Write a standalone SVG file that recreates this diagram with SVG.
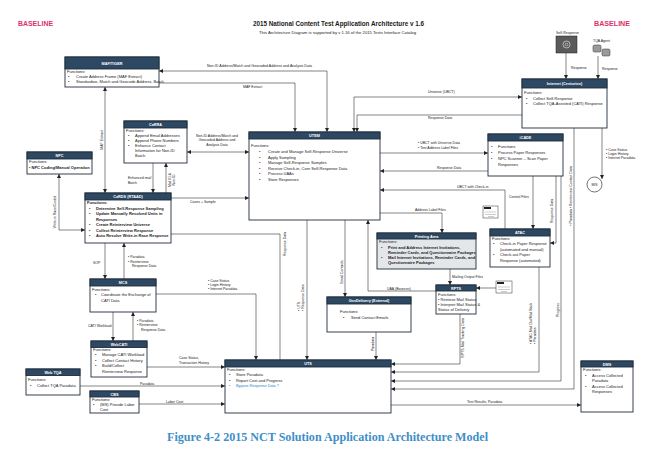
<svg xmlns="http://www.w3.org/2000/svg" width="650" height="457" viewBox="0 0 650 457">
<defs>
<marker id="ah" viewBox="0 0 10 10" refX="10" refY="5" markerWidth="4" markerHeight="4" markerUnits="userSpaceOnUse" orient="auto-start-reverse"><path d="M0,0 L10,5 L0,10 z" fill="#222"/></marker>
<style>
text{font-family:"Liberation Sans",Arial,sans-serif;fill:#1a1a1a}
.box{fill:#fff;stroke:#1f2d3a;stroke-width:0.9}
.grey{fill:#e4e7ea}
.hdr{fill:#2d4862;stroke:#1f2d3a;stroke-width:0.9}
.h{fill:#fff;font-size:3.8px;font-weight:bold;text-anchor:middle}
.t{font-size:4px}
.b{font-weight:bold}
.c{fill:none;stroke:#333;stroke-width:0.6}
.l{font-size:3.5px}
.base{fill:#e0306a;font-weight:bold;font-size:7.5px}
</style>
</defs>
<rect width="650" height="457" fill="#fff"/>

<text class="base" x="18" y="26" textLength="35" lengthAdjust="spacingAndGlyphs">BASELINE</text>
<text class="base" x="594" y="26" textLength="36" lengthAdjust="spacingAndGlyphs">BASELINE</text>
<text x="338.5" y="26" text-anchor="middle" font-weight="bold" font-size="6.5" textLength="171" lengthAdjust="spacingAndGlyphs">2015 National Content Test Application Architecture v 1.6</text>
<text x="337.5" y="34" text-anchor="middle" font-size="3.6" textLength="157" lengthAdjust="spacingAndGlyphs">This Architecture Diagram is supported by v 1.16 of the 2015 Tests Interface Catalog</text>
<text x="327.5" y="441" text-anchor="middle" font-weight="bold" font-size="12" textLength="321" lengthAdjust="spacingAndGlyphs" style="font-family:'Liberation Serif','Times New Roman',serif;fill:#3f8fc8">Figure 4-2 2015 NCT Solution Application Architecture Model</text>

<g id="connectors">
<path class="c" d="M159,71 H327 V132" marker-start="url(#ah)" marker-end="url(#ah)"/>
<text class="l" x="207" y="67" textLength="105" lengthAdjust="spacingAndGlyphs">Non-ID Address/Match and Geocoded Address and Analysis Data</text>
<path class="c" d="M159,83 H295 V132" marker-end="url(#ah)"/>
<text class="l" x="243" y="87.5">MAF Extract</text>
<path class="c" d="M105,87 V193" marker-start="url(#ah)" marker-end="url(#ah)"/>
<text class="l" text-anchor="middle" transform="translate(102.5,140) rotate(-90)">MAF Extract</text>
<path class="c" d="M187,152 H249" marker-start="url(#ah)" marker-end="url(#ah)"/>
<text class="l" text-anchor="middle" x="217" y="136.5">Non-ID Address/Match and</text>
<text class="l" text-anchor="middle" x="217" y="141">Geocoded Address and</text>
<text class="l" text-anchor="middle" x="217" y="145.5">Analysis Data</text>
<path class="c" d="M153,163 V193" marker-end="url(#ah)"/>
<text class="l" x="128" y="179">Enhanced mail</text>
<text class="l" x="128" y="184">Batch</text>
<path class="c" d="M166,193 V163" marker-end="url(#ah)"/>
<text class="l" text-anchor="middle" transform="translate(171,180) rotate(-90)">Mail ID &amp;</text>
<text class="l" text-anchor="middle" transform="translate(175,180) rotate(-90)">Non-ID</text>
<path class="c" d="M171,198 H249" marker-end="url(#ah)"/>
<text class="l" x="190" y="203">Cases + Sample</text>
<path class="c" d="M59,174 V230 H85" marker-start="url(#ah)" marker-end="url(#ah)"/>
<text class="l" text-anchor="middle" transform="translate(56,212) rotate(-90)">Write-in Race/Coded</text>
<path class="c" d="M105,243 V279" marker-end="url(#ah)"/>
<text class="l" x="93" y="264">SOP</text>
<path class="c" d="M124,279 V243" marker-end="url(#ah)"/>
<text class="l" x="128" y="258">•  Paradata</text>
<text class="l" x="128" y="262.5">•  Reinterview</text>
<text class="l" x="132" y="267">Response Data</text>
<path class="c" d="M113,312 V341" marker-end="url(#ah)"/>
<text class="l" x="88" y="327">CATI Workload</text>
<path class="c" d="M133,341 V312" marker-end="url(#ah)"/>
<text class="l" x="137" y="321.5">•  Paradata</text>
<text class="l" x="137" y="326">•  Reinterview</text>
<text class="l" x="141" y="330.5">Response Data</text>
<path class="c" d="M156,294 H256 V360" marker-end="url(#ah)"/>
<text class="l" x="208" y="282">•  Case Status</text>
<text class="l" x="208" y="286">•  Login History</text>
<text class="l" x="208" y="290">•  Internet Paradata</text>
<path class="c" d="M171,234 H280 V360"/>
<text class="l" text-anchor="middle" transform="translate(286,244) rotate(-90)">Response Data</text>
<path class="c" d="M307,220 V360" marker-end="url(#ah)"/>
<text class="l" transform="translate(300,311) rotate(-90)">•  UTS</text>
<text class="l" transform="translate(304,311) rotate(-90)">•  Response Data</text>
<path class="c" d="M345,220 V297" marker-end="url(#ah)"/>
<text class="l" text-anchor="middle" transform="translate(343,272) rotate(-90)">Email Contacts</text>
<path class="c" d="M436,291 H368 V220" marker-end="url(#ah)"/>
<text class="l" x="387" y="289.5">UAA (Bounces)</text>
<path class="c" d="M376,332 V360" marker-end="url(#ah)"/>
<text class="l" text-anchor="middle" transform="translate(374,344) rotate(-90)">Paradata</text>
<path class="c" d="M380,213 H442 V233" marker-end="url(#ah)"/>
<text class="l" x="415" y="211">Address Label Files</text>
<path class="c" d="M450,269 V285" marker-end="url(#ah)"/>
<text class="l" x="452" y="278">Mailing Output Files</text>
<path class="c" d="M496,288 H476" marker-end="url(#ah)"/>
<path class="c" d="M460,314 V364 H391" marker-end="url(#ah)"/>
<text class="l" text-anchor="middle" transform="translate(464,338) rotate(-90)">RPTS Mail Tracking Data</text>
<path class="c" d="M539,267 V372 H391" marker-end="url(#ah)"/>
<text class="l" transform="translate(532,344) rotate(-90)">•  ATAC Mail Out/Mail Back</text>
<text class="l" transform="translate(536,344) rotate(-90)">•  Paradata</text>
<path class="c" d="M561,176 V381 H391" marker-end="url(#ah)"/>
<text class="l" text-anchor="middle" transform="translate(559,310) rotate(-90)">Progress</text>
<path class="c" d="M574,128 V389 H391" marker-end="url(#ah)"/>
<text class="l" text-anchor="middle" transform="translate(572,196) rotate(-90)">•  Paradata   •  Reinterview Contact Data</text>
<path class="c" d="M602,128 V179" marker-end="url(#ah)"/>
<text class="l" x="606" y="151">•  Case Status</text>
<text class="l" x="606" y="155">•  Login History</text>
<text class="l" x="606" y="159">•  Internet Paradata</text>
<path class="c" d="M566,53 V79" marker-end="url(#ah)"/>
<text class="l" x="571" y="69">Response</text>
<path class="c" d="M598,56 V79" marker-end="url(#ah)"/>
<text class="l" x="602" y="70">Response</text>
<path class="c" d="M354,132 V97 H522" marker-start="url(#ah)" marker-end="url(#ah)"/>
<text class="l" x="428" y="93">Universe (UBCT)</text>
<path class="c" d="M522,115 H357 V132" marker-end="url(#ah)"/>
<text class="l" x="428" y="119">Response Data</text>
<path class="c" d="M380,153 H488" marker-end="url(#ah)"/>
<text class="l" x="418" y="144">•  UBCT with Universe Data</text>
<text class="l" x="418" y="148.5">•  Test Address Label Files</text>
<path class="c" d="M488,171 H380" marker-end="url(#ah)"/>
<text class="l" x="437" y="169">Response Data</text>
<path class="c" d="M505,229 V190 H380" marker-end="url(#ah)"/>
<text class="l" x="457" y="188">UBCT with Check-in</text>
<path class="c" d="M533,176 V229" marker-end="url(#ah)"/>
<text class="l" x="509" y="198">Control Files</text>
<path class="c" d="M556,176 V243 H550" marker-end="url(#ah)"/>
<text class="l" text-anchor="middle" transform="translate(553,211) rotate(-90)">Response Data</text>
<path class="c" d="M391,405 H581" marker-end="url(#ah)"/>
<text class="l" x="467" y="403">Test Results, Paradata</text>
<path class="c" d="M147,367 H225" marker-end="url(#ah)"/>
<text class="l" x="179" y="359">Case Status,</text>
<text class="l" x="179" y="363.5">Transaction History</text>
<path class="c" d="M80,386 H225" marker-end="url(#ah)"/>
<text class="l" x="140" y="384.5">Paradata</text>
<path class="c" d="M139,404 H225" marker-end="url(#ah)"/>
<text class="l" x="166" y="402.5">Labor Cost</text>
</g>

<g id="self-response">
<text class="l" x="556" y="34">Self-Response</text>
<rect x="556" y="36" width="21" height="17" fill="#5a5a5a" stroke="#222" stroke-width="0.5"/>
<circle cx="566.5" cy="44.5" r="3.5" fill="none" stroke="#ddd" stroke-width="0.7"/>
<circle cx="566.5" cy="44.5" r="1.3" fill="none" stroke="#ddd" stroke-width="0.6"/>
</g>
<g id="tqa-agent">
<text class="l" x="593" y="42">TQA Agent</text>
<rect x="593" y="45" width="8" height="7" rx="1.5" fill="#9a9a9a" stroke="#333" stroke-width="0.5"/>
<rect x="602" y="49" width="8" height="7" rx="1.5" fill="#9a9a9a" stroke="#333" stroke-width="0.5"/>
</g>
<g id="paper-icon-1">
<rect x="483" y="206" width="15" height="12" fill="#fff" stroke="#333" stroke-width="0.5"/>
<rect x="484" y="207" width="7" height="2" fill="#222"/>
<path d="M485,212 H496 M485,214.5 H496 M488,216.5 H494" stroke="#999" stroke-width="0.5"/>
</g>
<g id="paper-icon-2">
<rect x="496" y="281" width="16" height="12" fill="#fff" stroke="#333" stroke-width="0.5"/>
<rect x="497" y="282" width="7" height="2" fill="#222"/>
<path d="M498,287 H510 M498,289.5 H510 M501,291.5 H507" stroke="#999" stroke-width="0.5"/>
</g>

<g id="maf-tiger">
<rect class="box" x="65" y="57" width="94" height="30"/>
<rect class="hdr" x="65" y="57" width="94" height="12"/>
<text class="h" x="112" y="64.5">MAF/TIGER</text>
<text class="t" x="67" y="73">Functions:</text>
<text class="t" x="68" y="77.5">•</text><text class="t" x="76" y="77.5" font-size="3.6">Create Address Frame (MAF Extract)</text>
<text class="t" x="68" y="82.5">•</text><text class="t" x="76" y="82.5" font-size="3.5">Standardize, Match and Geocode Address, Batch</text>
</g>

<g id="carra">
<rect class="box" x="124" y="121" width="63" height="42"/>
<rect class="hdr" x="124" y="121" width="63" height="7"/>
<text class="h" x="155.5" y="126">CaRRA</text>
<text class="t" x="126" y="132">Functions:</text>
<text class="t" x="128" y="136.5">•</text><text class="t" x="135" y="136.5">Append Email Addresses</text>
<text class="t" x="128" y="141.5">•</text><text class="t" x="135" y="141.5">Append Phone Numbers</text>
<text class="t" x="128" y="146.5">•</text><text class="t" x="135" y="146.5">Enhance Contact</text>
<text class="t" x="135" y="151.5">Information for Non-ID</text>
<text class="t" x="135" y="156.5">Batch</text>
</g>

<g id="npc">
<rect class="box" x="27" y="152" width="65" height="22"/>
<rect class="hdr" x="27" y="152" width="65" height="7"/>
<text class="h" x="59.5" y="157">NPC</text>
<text class="t" x="29" y="163" font-size="3.7">Functions:</text>
<text class="t b" x="29" y="168.5" font-size="3.5">•  NPC Coding/Manual Operation</text>
</g>

<g id="cards">
<rect class="box" x="85" y="193" width="86" height="50"/>
<rect class="hdr" x="85" y="193" width="86" height="7"/>
<text class="h" x="128" y="198">CaRDS (RTAAD)</text>
<text class="t b" x="87" y="204" font-size="3.7">Functions:</text>
<text class="t b" x="89" y="209.5" font-size="3.7">•</text><text class="t b" x="96" y="209.5" font-size="3.7">Determine Self-Response Sampling</text>
<text class="t b" x="89" y="215" font-size="3.7">•</text><text class="t b" x="96" y="215" font-size="3.7">Update Manually Resolved Units in</text>
<text class="t b" x="96" y="220.5" font-size="3.7">Responses</text>
<text class="t b" x="89" y="226" font-size="3.7">•</text><text class="t b" x="96" y="226" font-size="3.7">Create Reinterview Universe</text>
<text class="t b" x="89" y="231.5" font-size="3.7">•</text><text class="t b" x="96" y="231.5" font-size="3.7">Collect Reinterview Response</text>
<text class="t b" x="89" y="237" font-size="3.7">•</text><text class="t b" x="96" y="237" font-size="3.6">Auto Resolve Write-in Race Response</text>
</g>

<g id="mcs">
<rect class="box" x="90" y="279" width="66" height="33"/>
<rect class="hdr" x="90" y="279" width="66" height="7"/>
<text class="h" x="123" y="284">MCS</text>
<text class="t" x="92" y="290.5">Functions:</text>
<text class="t" x="95" y="296">•</text><text class="t" x="101" y="296">Coordinate the Exchange of</text>
<text class="t" x="101" y="301.5">CATI Data</text>
</g>

<g id="webcati">
<rect class="box" x="91" y="341" width="56" height="36"/>
<rect class="hdr" x="91" y="341" width="56" height="6.5"/>
<text class="h" x="119" y="346">WebCATI</text>
<text class="t" x="93" y="351" font-size="3.6">Functions:</text>
<text class="t" x="95" y="356" font-size="3.6">•</text><text class="t" x="102" y="356" font-size="3.6">Manage CATI Workload</text>
<text class="t" x="95" y="361.5" font-size="3.6">•</text><text class="t" x="102" y="361.5" font-size="3.6">Collect Contact History</text>
<text class="t" x="95" y="367" font-size="3.6">•</text><text class="t" x="102" y="367" font-size="3.6">Build/Collect</text>
<text class="t" x="102" y="372.5" font-size="3.6">Reinterview Response</text>
</g>

<g id="web-tqa">
<rect class="box" x="26" y="369" width="54" height="26"/>
<rect class="hdr" x="26" y="369" width="54" height="6.5"/>
<text class="h" x="53" y="374">Web TQA</text>
<text class="t" x="28" y="380.5" font-size="3.7">Functions:</text>
<text class="t" x="30" y="386.5" font-size="3.7">•</text><text class="t" x="37" y="386.5" font-size="3.7">Collect TQA Paradata</text>
</g>

<g id="cbs">
<rect class="box" x="90" y="391" width="49" height="22"/>
<rect class="hdr" x="90" y="391" width="49" height="6"/>
<text class="h" x="114.5" y="395.5">CBS</text>
<text class="t" x="92" y="401" font-size="3.7">Functions:</text>
<text class="t" x="93" y="406" font-size="3.7">•</text><text class="t" x="100" y="406" font-size="3.7">(MS) Provide Labor</text>
<text class="t" x="100" y="411" font-size="3.7">Cost</text>
</g>

<g id="utem">
<rect class="box" x="249" y="132" width="131" height="88"/>
<rect class="hdr" x="249" y="132" width="131" height="7"/>
<text class="h" x="314.5" y="137">UTEM</text>
<text class="t" x="251" y="147">Functions:</text>
<text class="t" x="259" y="153">•</text><text class="t" x="268" y="153">Create and Manage Self-Response Universe</text>
<text class="t" x="259" y="158.5">•</text><text class="t" x="268" y="158.5">Apply Sampling</text>
<text class="t" x="259" y="164">•</text><text class="t" x="268" y="164">Manage Self-Response Samples</text>
<text class="t" x="259" y="169.5">•</text><text class="t" x="268" y="169.5">Receive Check-in, Core Self-Response Data</text>
<text class="t" x="259" y="175">•</text><text class="t" x="268" y="175">Process UAAs</text>
<text class="t" x="259" y="180.5">•</text><text class="t" x="268" y="180.5">Store Responses</text>
</g>

<g id="internet-centurion">
<rect class="box" x="522" y="79" width="85" height="49"/>
<rect class="hdr" x="522" y="79" width="85" height="9"/>
<text class="h" x="564.5" y="85">Internet (Centurion)</text>
<text class="t" x="524" y="94" font-size="3.7">Functions:</text>
<text class="t" x="526" y="99.5" font-size="3.7">•</text><text class="t" x="533" y="99.5" font-size="3.7">Collect Self-Response</text>
<text class="t" x="526" y="105" font-size="3.7">•</text><text class="t" x="533" y="105" font-size="3.6">Collect TQA-Assisted (CATI) Response</text>
</g>

<g id="icade">
<rect class="box" x="488" y="134" width="75" height="42"/>
<rect class="hdr" x="488" y="134" width="75" height="7"/>
<text class="h" x="525.5" y="139">iCADE</text>
<text class="t" x="491" y="148" font-size="3.7">•</text><text class="t" x="498" y="148" font-size="3.7">Functions</text>
<text class="t" x="491" y="154" font-size="3.7">•</text><text class="t" x="498" y="154" font-size="3.7">Process Paper Responses</text>
<text class="t" x="491" y="160" font-size="3.7">•</text><text class="t" x="498" y="160" font-size="3.7">NPC Scanner – Scan Paper</text>
<text class="t" x="498" y="166" font-size="3.7">Responses</text>
</g>

<g id="mis">
<circle cx="594.5" cy="184.5" r="7.5" fill="#fff" stroke="#333" stroke-width="0.7"/>
<text x="594.5" y="185.8" text-anchor="middle" font-size="3.4">MIS</text>
</g>

<g id="atac">
<rect class="box" x="490" y="229" width="60" height="38"/>
<rect class="hdr" x="490" y="229" width="60" height="7"/>
<text class="h" x="520" y="234">ATAC</text>
<text class="t" x="492" y="240" font-size="3.6">Functions:</text>
<text class="t" x="493" y="245" font-size="3.6">•</text><text class="t" x="500" y="245" font-size="3.6">Check-in Paper Response</text>
<text class="t" x="500" y="250.5" font-size="3.6">(automated and manual)</text>
<text class="t" x="493" y="256" font-size="3.6">•</text><text class="t" x="500" y="256" font-size="3.6">Check-out Paper</text>
<text class="t" x="500" y="261.5" font-size="3.6">Response (automated)</text>
</g>

<g id="printing-area">
<rect class="box grey" x="377" y="233" width="99" height="36"/>
<rect class="hdr" x="377" y="233" width="99" height="6"/>
<text class="h" x="426.5" y="237.6">Printing Area</text>
<text class="t" x="379" y="243" font-size="3.5">Functions:</text>
<text class="t b" x="381" y="248.5" font-size="3.4">•</text><text class="t b" x="388" y="248.5" font-size="3.4">Print and Address Internet Invitations,</text>
<text class="t b" x="388" y="253.8" font-size="3.4">Reminder Cards, and Questionnaire Packages</text>
<text class="t b" x="381" y="259.1" font-size="3.4">•</text><text class="t b" x="388" y="259.1" font-size="3.3">Mail Internet Invitations, Reminder Cards, and</text>
<text class="t b" x="388" y="264.4" font-size="3.4">Questionnaire Packages</text>
</g>

<g id="rpts">
<rect class="box" x="436" y="285" width="40" height="29"/>
<rect class="hdr" x="436" y="285" width="40" height="6"/>
<text class="h" x="456" y="289.6">RPTS</text>
<text class="t" x="438" y="295.5" font-size="3.1">Functions:</text>
<text class="t" x="438" y="300.5" font-size="3.1">• Retrieve Mail Status</text>
<text class="t" x="438" y="305.8" font-size="3.1">• Interpret Mail Status &amp;</text>
<text class="t" x="438" y="311" font-size="3.1">Status of Delivery</text>
</g>

<g id="govdelivery">
<rect class="box" x="327" y="297" width="84" height="35"/>
<rect class="hdr" x="327" y="297" width="84" height="7"/>
<text class="h" x="369" y="302">GovDelivery (External)</text>
<text class="t" x="340" y="313" font-size="3.7">Functions:</text>
<text class="t" x="343" y="318.5" font-size="3.7">•</text><text class="t" x="351" y="318.5" font-size="3.7">Send Contact Emails</text>
</g>

<g id="uts">
<rect class="box" x="225" y="360" width="166" height="53"/>
<rect class="hdr" x="225" y="360" width="166" height="7"/>
<text class="h" x="308" y="365">UTS</text>
<text class="t" x="227" y="370.5" font-size="3.8">Functions:</text>
<text class="t" x="229" y="376" font-size="3.8">•</text><text class="t" x="236" y="376" font-size="3.8">Store Paradata</text>
<text class="t" x="229" y="381.5" font-size="3.8">•</text><text class="t" x="236" y="381.5" font-size="3.8">Report Cost and Progress</text>
<text x="229" y="387" font-size="3.8" style="fill:#2a7fc0">•</text><text x="236" y="387" font-size="3.8" style="fill:#2a7fc0">Bypass Response Data ?</text>
</g>

<g id="dms">
<rect class="box" x="581" y="361" width="52" height="51"/>
<rect class="hdr" x="581" y="361" width="52" height="6"/>
<text class="h" x="607" y="365.5">DMS</text>
<text class="t" x="583" y="371" font-size="3.6">Functions:</text>
<text class="t" x="585" y="376.5" font-size="3.6">•</text><text class="t" x="592" y="376.5" font-size="3.6">Access Collected</text>
<text class="t" x="592" y="382" font-size="3.6">Paradata</text>
<text class="t" x="585" y="387.5" font-size="3.6">•</text><text class="t" x="592" y="387.5" font-size="3.6">Access Collected</text>
<text class="t" x="592" y="393" font-size="3.6">Responses</text>
</g>
</svg>
